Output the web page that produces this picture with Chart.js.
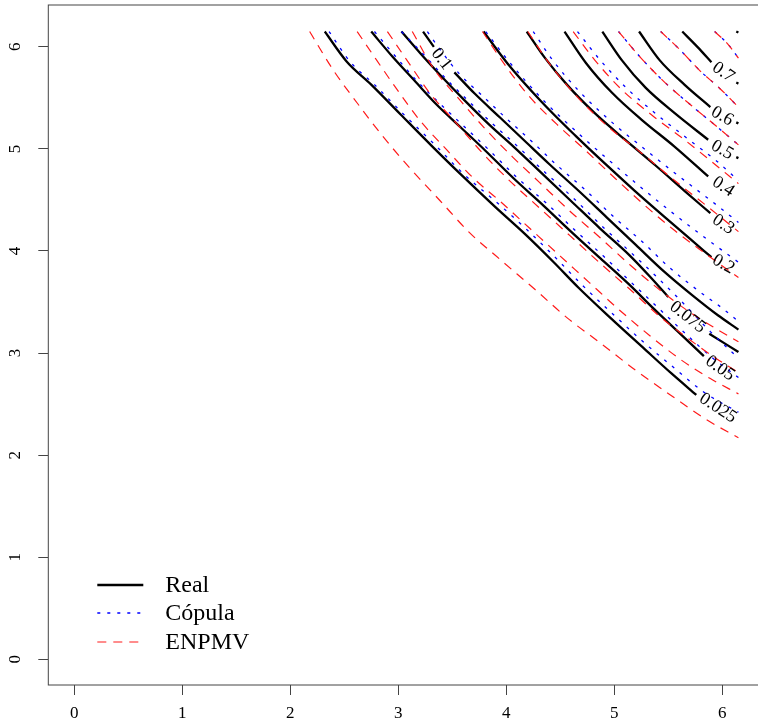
<!DOCTYPE html>
<html>
<head>
<meta charset="utf-8">
<script src="https://cdn.jsdelivr.net/npm/chart.js@4.4.1/dist/chart.umd.min.js"></script>
<style>
  html, body { margin: 0; padding: 0; background: #fff; overflow: hidden; }
  #wrap { width: 758px; height: 728px; overflow: hidden; }
</style>
</head>
<body>
<div id="wrap"><canvas id="chart" width="790" height="728"></canvas></div>
<script>
const FONT = "'Liberation Serif', 'Times New Roman', serif";

const levels = ['0.025', '0.05', '0.075', '0.1', '0.2', '0.3', '0.4', '0.5', '0.6', '0.7', '0.8'];
const xTicks = [0, 1, 2, 3, 4, 5, 6];
const yTicks = [0, 1, 2, 3, 4, 5, 6];
const seriesNames = ['Real', 'Cópula', 'ENPMV'];

// contour lines, one list of [x, y] per level; null breaks the line where a label sits
const realCurves = [
  [[2.32,6.15],[2.52,5.86],[2.75,5.63],[3.02,5.34],[3.31,5.03],[3.57,4.76],[3.90,4.43],[4.17,4.17],[4.44,3.89],[4.67,3.64],[4.97,3.34],[5.27,3.05],[5.53,2.80],[5.76,2.59]],
  [[2.75,6.15],[2.95,5.90],[3.15,5.67],[3.35,5.44],[3.58,5.21],[3.81,4.98],[4.07,4.71],[4.34,4.45],[4.60,4.19],[4.87,3.93],[5.14,3.67],[5.37,3.43],[5.60,3.20],[5.83,2.97]],
  [[3.03,6.15],[3.21,5.93],[3.41,5.70],[3.61,5.48],[3.84,5.24],[4.07,5.02],[4.34,4.75],[4.60,4.49],[4.87,4.22],[5.14,3.96],[5.33,3.75],[5.50,3.55],null,[5.88,3.19],[6.15,3.01]],
  [[3.23,6.15],[3.33,6.00],null,[3.52,5.75],[3.71,5.54],[3.94,5.31],[4.17,5.08],[4.40,4.85],[4.67,4.59],[4.93,4.33],[5.20,4.06],[5.46,3.80],[5.73,3.56],[5.96,3.37],[6.15,3.23]],
  [[3.79,6.15],[4.01,5.84],[4.32,5.47],[4.65,5.12],[4.91,4.86],[5.19,4.59],[5.46,4.34],[5.70,4.12],[5.90,3.94]],
  [[4.19,6.15],[4.36,5.89],[4.57,5.62],[4.82,5.35],[5.10,5.09],[5.38,4.84],[5.65,4.59],[5.89,4.37]],
  [[4.54,6.15],[4.74,5.84],[4.98,5.55],[5.26,5.28],[5.55,5.03],[5.87,4.73]],
  [[4.89,6.15],[5.07,5.87],[5.29,5.60],[5.56,5.35],[5.87,5.09],null,[6.13,4.92],[6.15,4.91]],
  [[5.23,6.15],[5.42,5.87],[5.65,5.63],[5.89,5.41],null,[6.13,5.26],[6.15,5.25]],
  [[5.63,6.15],[5.77,6.00],[5.90,5.85],null,[6.13,5.65],[6.15,5.64]],
  [[6.13,6.15],[6.15,6.14]]
];

const copulaCurves = [
  [[2.36,6.15],[2.55,5.86],[2.78,5.63],[3.04,5.35],[3.34,5.04],[3.60,4.76],[3.93,4.46],[4.20,4.20],[4.47,3.92],[4.70,3.67],[5.00,3.37],[5.29,3.09],[5.56,2.85],[5.84,2.61],[6.15,2.42]],
  [[2.78,6.15],[2.98,5.90],[3.17,5.67],[3.38,5.45],[3.61,5.22],[3.84,4.99],[4.10,4.72],[4.37,4.47],[4.63,4.21],[4.90,3.95],[5.16,3.69],[5.40,3.45],[5.63,3.22],[5.89,2.97],[6.15,2.76]],
  [[3.03,6.15],[3.24,5.92],[3.44,5.69],[3.64,5.48],[3.87,5.25],[4.10,5.03],[4.37,4.76],[4.63,4.51],[4.90,4.23],[5.16,3.98],[5.39,3.75],[5.61,3.52],[5.89,3.21],[6.15,2.95]],
  [[3.27,6.15],[3.39,5.97],[3.57,5.73],[3.77,5.53],[4.00,5.30],[4.23,5.08],[4.46,4.85],[4.73,4.60],[4.99,4.34],[5.26,4.09],[5.52,3.83],[5.78,3.61],[6.00,3.44],[6.15,3.31]],
  [[3.81,6.15],[4.03,5.85],[4.35,5.47],[4.68,5.14],[4.95,4.89],[5.24,4.63],[5.52,4.39],[5.79,4.17],[6.15,3.89]],
  [[4.25,6.15],[4.43,5.87],[4.68,5.56],[4.98,5.26],[5.28,5.00],[5.59,4.74],[5.90,4.49],[6.15,4.28]],
  [[4.66,6.15],[4.87,5.87],[5.12,5.59],[5.39,5.34],[5.68,5.10],[5.95,4.88],[6.15,4.69]],
  [[5.04,6.15],[5.24,5.90],[5.47,5.65],[5.72,5.42],[5.96,5.21],[6.15,5.04]],
  [[5.43,6.15],[5.61,5.97],[5.79,5.77],[5.98,5.59],[6.15,5.41]],
  [[5.93,6.15],[6.05,6.03],[6.15,5.89]]
];

const enpmvCurves = [
  [[2.18,6.15],[2.40,5.77],[2.62,5.45],[2.86,5.12],[3.11,4.81],[3.39,4.49],[3.66,4.18],[3.94,3.92],[4.27,3.62],[4.57,3.34],[4.87,3.10],[5.20,2.83],[5.52,2.59],[5.85,2.35],[6.15,2.17]],
  [[2.62,6.15],[2.80,5.87],[2.99,5.58],[3.20,5.28],[3.45,4.99],[3.69,4.72],[3.94,4.49],[4.22,4.22],[4.50,3.95],[4.77,3.69],[5.05,3.42],[5.33,3.17],[5.61,2.94],[5.89,2.75],[6.15,2.60]],
  [[2.90,6.15],[3.08,5.87],[3.29,5.55],[3.54,5.25],[3.78,4.96],[4.03,4.69],[4.31,4.42],[4.59,4.15],[4.87,3.88],[5.15,3.62],[5.42,3.36],[5.70,3.13],[5.94,2.95],[6.15,2.81]],
  [[3.13,6.15],[3.32,5.80],[3.57,5.48],[3.82,5.18],[4.06,4.92],[4.31,4.67],[4.59,4.39],[4.87,4.13],[5.15,3.86],[5.42,3.62],[5.70,3.40],[5.94,3.24],[6.15,3.11]],
  [[3.78,6.15],[3.97,5.85],[4.20,5.53],[4.47,5.24],[4.73,4.99],[5.01,4.71],[5.28,4.45],[5.56,4.20],[5.85,3.97],[6.15,3.74]],
  [[4.20,6.15],[4.39,5.85],[4.64,5.53],[4.94,5.22],[5.24,4.97],[5.56,4.69],[5.87,4.43],[6.15,4.19]],
  [[4.62,6.15],[4.82,5.87],[5.07,5.58],[5.35,5.33],[5.65,5.09],[5.92,4.86],[6.15,4.66]],
  [[5.04,6.15],[5.24,5.90],[5.47,5.65],[5.72,5.42],[5.96,5.21],[6.15,5.04]],
  [[5.43,6.15],[5.61,5.97],[5.79,5.77],[5.98,5.59],[6.15,5.41]],
  [[5.93,6.15],[6.05,6.03],[6.15,5.89]]
];

// where each level label of the Real contours is written: [x, y, angle in degrees]
const labelSpots = [
  [5.96, 2.46, 33], [5.98, 2.85, 35], [5.68, 3.35, 38], [3.40, 5.88, 52],
  [6.01, 3.87, 30], [6.01, 4.26, 33], [6.01, 4.63, 33], [6.00, 4.99, 30],
  [6.00, 5.32, 30], [6.01, 5.75, 35]
];

const styles = {
  Real:     { color: '#000000', width: 2.3, dash: [] },
  'Cópula': { color: '#0000ff', width: 1.3, dash: [3, 7] },
  ENPMV:    { color: '#ff1a1a', width: 1.2, dash: [9, 7] }
};

function toPoints(curve) {
  return curve.map(p => p ? { x: p[0], y: p[1] } : { x: null, y: null });
}

function curveSets(curves, name, order) {
  const st = styles[name];
  return curves.map((c, i) => ({
    label: name + ' ' + levels[i],
    data: toPoints(c),
    showLine: true,
    borderColor: st.color,
    borderWidth: st.width,
    borderDash: st.dash,
    pointRadius: 0,
    cubicInterpolationMode: 'monotone',
    spanGaps: false,
    fill: false,
    order: order
  }));
}

const datasets = [
  ...curveSets(realCurves, 'Real', 3),
  ...curveSets(copulaCurves, 'Cópula', 2),
  ...curveSets(enpmvCurves, 'ENPMV', 1)
];

const boxPlugin = {
  id: 'box',
  afterDraw(chart) {
    const { ctx, chartArea: a, scales } = chart;
    ctx.save();
    ctx.strokeStyle = '#444';
    ctx.lineWidth = 1;
    ctx.strokeRect(a.left, a.top, a.right - a.left, a.bottom - a.top);

    // y tick labels, turned to read upwards
    ctx.fillStyle = '#000';
    ctx.font = '17px ' + FONT;
    ctx.textAlign = 'center';
    ctx.textBaseline = 'middle';
    yTicks.forEach(v => {
      ctx.save();
      ctx.translate(16, scales.y.getPixelForValue(v));
      ctx.rotate(-Math.PI / 2);
      ctx.fillText(String(v), 0, 0);
      ctx.restore();
    });

    // contour level labels
    ctx.font = '18px ' + FONT;
    labelSpots.forEach((s, i) => {
      ctx.save();
      ctx.translate(scales.x.getPixelForValue(s[0]), scales.y.getPixelForValue(s[1]));
      ctx.rotate(s[2] * Math.PI / 180);
      ctx.fillText(levels[i], 0, 0);
      ctx.restore();
    });

    // legend, bottom left
    const rows = [a.bottom - 100, a.bottom - 72, a.bottom - 43];
    seriesNames.forEach((n, i) => {
      const st = styles[n];
      ctx.beginPath();
      ctx.strokeStyle = st.color;
      ctx.lineWidth = st.width;
      ctx.setLineDash(st.dash);
      ctx.moveTo(a.left + 49, rows[i]);
      ctx.lineTo(a.left + 95, rows[i]);
      ctx.stroke();
      ctx.setLineDash([]);
      ctx.fillStyle = '#000';
      ctx.font = '24px ' + FONT;
      ctx.textAlign = 'left';
      ctx.fillText(n, a.left + 117, rows[i] + 1);
    });
    ctx.restore();
  }
};

const axisGrid = { drawOnChartArea: false, drawTicks: true, tickLength: 10, color: '#444', lineWidth: 1 };

new Chart(document.getElementById('chart').getContext('2d'), {
  type: 'scatter',
  data: { datasets },
  options: {
    responsive: false,
    animation: false,
    layout: { padding: { top: 5, right: 23.5, left: 0, bottom: 0 } },
    plugins: { legend: { display: false }, tooltip: { enabled: false } },
    scales: {
      x: {
        type: 'linear', min: -0.24, max: 6.41,
        afterFit(s) { s.height = 43; },
        afterBuildTicks(s) { s.ticks = xTicks.map(v => ({ value: v })); },
        ticks: { padding: 8, color: '#000', font: { family: FONT, size: 17 }, maxRotation: 0 },
        grid: axisGrid,
        border: { display: false }
      },
      y: {
        type: 'linear', min: -0.252, max: 6.41,
        afterFit(s) { s.width = 48.3; },
        afterBuildTicks(s) { s.ticks = yTicks.map(v => ({ value: v })); },
        ticks: { display: false },
        grid: axisGrid,
        border: { display: false }
      }
    }
  },
  plugins: [boxPlugin]
});
</script>
</body>
</html>
